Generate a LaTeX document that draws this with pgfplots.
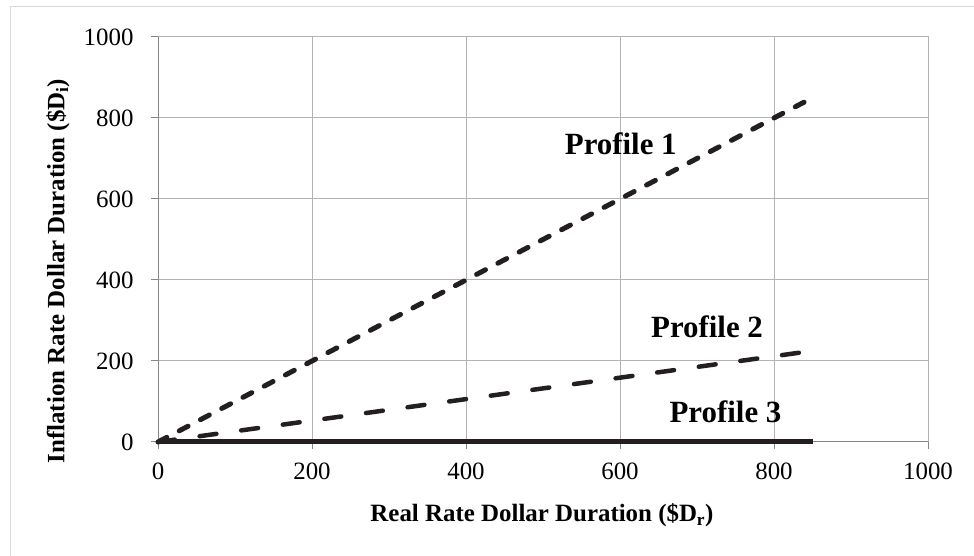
\documentclass[border=0pt]{standalone}
\usepackage{fontspec}
\setmainfont{Liberation Serif}
\usepackage{pgfplots}
\pgfplotsset{compat=1.18}
\definecolor{gridc}{HTML}{B3B3B3}
\definecolor{axc}{HTML}{868686}
\definecolor{linec}{HTML}{231F20}
\definecolor{framec}{HTML}{D9D9D9}
\begin{document}
\begin{tikzpicture}[x=1bp,y=1bp]
\useasboundingbox (0,0) rectangle (974,556);
\draw[framec, line width=1bp] (10,0) -- (10,549) -- (974,549);
\begin{axis}[
  at={(158bp,114bp)}, anchor=south west,
  scale only axis, width=770bp, height=405bp,
  xmin=0, xmax=1000, ymin=0, ymax=1000,
  xtick={0,200,...,1000}, ytick={0,200,...,1000},
  grid=major, major grid style={gridc, line width=1bp},
  axis line style={gridc, line width=1bp},
  xtick pos=left, ytick pos=left,
  tick align=outside, major tick length=7bp,
  tick style={axc, line width=1bp},
  ticklabel style={font=\fontsize{25}{30}\selectfont},
  xticklabel style={yshift=-10bp},
  yticklabel style={xshift=-14bp},
  /pgf/number format/assume math mode=true,
  /pgf/number format/1000 sep={},
  clip=false,
]
\draw[axc, line width=1bp] (rel axis cs:0,0) -- (rel axis cs:0,1);
\draw[axc, line width=1bp] (rel axis cs:0,0) -- (rel axis cs:1,0);
\addplot[linec, line width=5bp, line cap=round, dash pattern=on 10bp off 14bp] coordinates {(0,0) (850,850)};
\addplot[linec, line width=4.5bp, line cap=round, dash pattern=on 17bp off 25bp] coordinates {(0,0) (850,225)};
\addplot[linec, line width=5bp] coordinates {(0,0) (850,0)};
\node[anchor=base, font=\fontsize{31}{36}\selectfont\bfseries] at (axis cs:601,709) {Profile 1};
\node[anchor=base, font=\fontsize{31}{36}\selectfont\bfseries] at (axis cs:713,259) {Profile 2};
\node[anchor=base, font=\fontsize{31}{36}\selectfont\bfseries] at (axis cs:737,47) {Profile 3};
\end{axis}
\node[anchor=base, font=\fontsize{25}{30}\selectfont\bfseries] at (542,34) {Real Rate Dollar Duration (\$D\textsubscript{r})};
\node[rotate=90, font=\fontsize{25}{30}\selectfont\bfseries] at (58,285) {Inflation Rate Dollar Duration (\$D\textsubscript{i})};
\end{tikzpicture}
\end{document}
